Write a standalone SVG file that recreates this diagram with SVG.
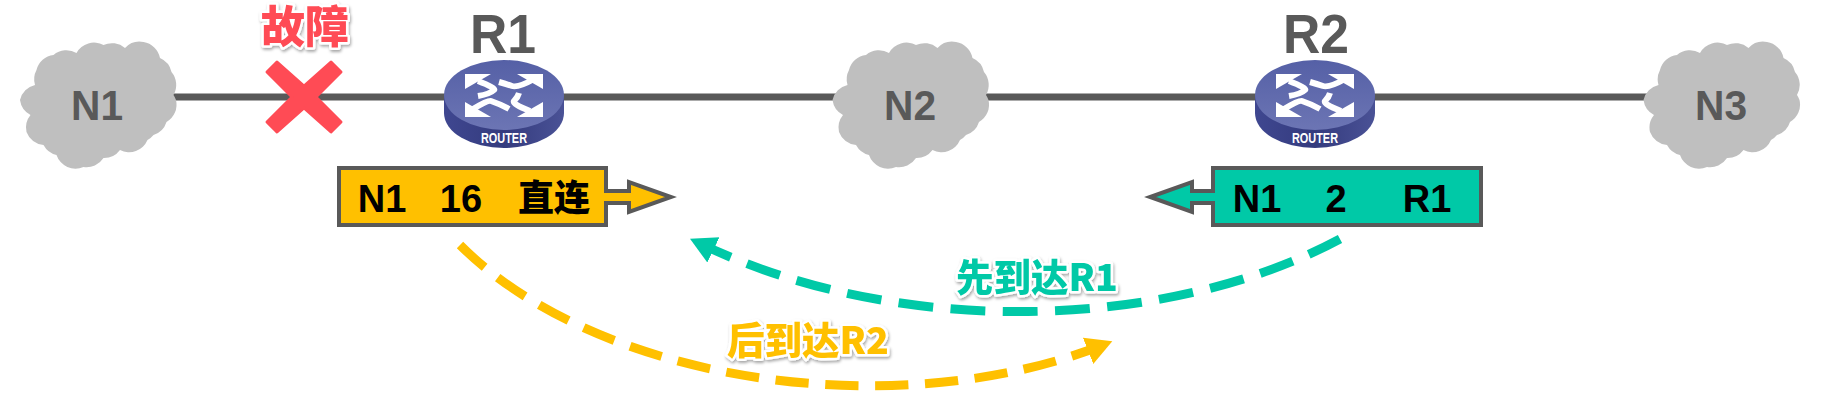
<svg xmlns="http://www.w3.org/2000/svg" width="1827" height="406" viewBox="0 0 1827 406">
<style>
text{font-family:"Liberation Sans","Noto Sans CJK SC",sans-serif;font-weight:700;text-anchor:middle}
.cloud{fill:#BFBFBF}
.nlabel{font-size:43px;fill:#595959}
.rlabel{font-size:56px;fill:#595959}
.rtr{font-size:15px;fill:#fff}
.cell{font-size:38px;fill:#000}
.cjk{font-family:"Noto Sans CJK SC","Liberation Sans",sans-serif;font-weight:900}
.latinfirst{font-family:"Liberation Sans","Noto Sans CJK SC",sans-serif;font-weight:900}
.cellcjk{font-size:36px;fill:#000}
.link{stroke:#595959;stroke-width:7;fill:none}
.box{stroke:#595959;stroke-width:4;stroke-linejoin:miter}
.dash{fill:none;stroke-width:9;stroke-dasharray:36 18}
.glow{paint-order:stroke;stroke:#fff;stroke-width:5px;stroke-linejoin:round;filter:url(#sh)}
.arw{fill:none;stroke:#fff;stroke-width:6;stroke-linejoin:round}
</style>
<defs>
<filter id="sh" x="-20%" y="-20%" width="140%" height="140%"><feDropShadow dx="1" dy="2" stdDeviation="1.5" flood-color="#000" flood-opacity=".35"/></filter>
<linearGradient id="top" x1="0" y1="0" x2="0" y2="1"><stop offset="0" stop-color="#5560A6"/><stop offset="1" stop-color="#6C75B4"/></linearGradient>
<linearGradient id="side" x1="0" y1="0" x2="1" y2="0"><stop offset="0" stop-color="#3F4790"/><stop offset=".5" stop-color="#343B7E"/><stop offset="1" stop-color="#4A5296"/></linearGradient>
<marker id="mg" markerUnits="userSpaceOnUse" markerWidth="30" markerHeight="32" refX="16" refY="15" orient="auto"><path d="M0 1L26 15L0 29Z" fill="#00C9A7"/></marker>
<marker id="my" markerUnits="userSpaceOnUse" markerWidth="30" markerHeight="32" refX="16" refY="15" orient="auto"><path d="M0 1L26 15L0 29Z" fill="#FFC000"/></marker>
<path id="cloudShape" class="cloud" d="M-77.5 -4A20 20 0 0 1 -62.5 -19A20 20 0 0 1 -61 -34A20 20 0 0 1 -44 -49A20 20 0 0 1 -21 -51A20 20 0 0 1 6 -59A20 20 0 0 1 27.5 -56A20 20 0 0 1 46 -62A20 20 0 0 1 62.5 -46A20 20 0 0 1 74 -32A20 20 0 0 1 76 -9A20 20 0 0 1 78.5 -4A20 20 0 0 1 69 18A20 20 0 0 1 56 31A20 20 0 0 1 50 36A20 20 0 0 1 22.5 46A20 20 0 0 1 6 54A20 20 0 0 1 -14 63A20 20 0 0 1 -41 51A20 20 0 0 1 -54 41A20 20 0 0 1 -71 28A20 20 0 0 1 -67 11A20 20 0 0 1 -77.5 -4Z"/>
<g id="routerShape">
<path d="M-60 -1V17A60 35 0 0 0 60 17V-1Z" fill="url(#side)"/>
<ellipse cx="0" cy="-1" rx="60" ry="35" fill="url(#top)"/>
<g class="arw"><path d="M-26 -15Q-8 -8 -10 -6Q-14 -2 -26 0"/><path d="M30 -17Q14 -8 8 -10Q2 -12 -5 -14"/><path d="M26 15Q8 8 10 5Q14 1 15 -3"/><path d="M-31 13Q-16 4 -13 5Q-4 8 5 13"/></g>
<g fill="#fff"><path d="M-39 -22H-13L-39 -7Z"/><path d="M39 -22H13L39 -7Z"/><path d="M-39 21H-13L-39 6Z"/><path d="M39 21H13L39 6Z"/></g>
<text class="rtr" x="0" y="47" textLength="46" lengthAdjust="spacingAndGlyphs">ROUTER</text>
</g>
</defs>
<g id="connectors">
<path class="link" d="M170 97H445"/><path class="link" d="M563 97H840"/><path class="link" d="M980 97H1256"/><path class="link" d="M1374 97H1650"/>
<path class="dash" stroke="#00C9A7" marker-end="url(#mg)" pathLength="684" d="M1340 239C1170 330 900 340 699 243"/>
<path class="dash" stroke="#FFC000" marker-end="url(#my)" pathLength="738" d="M460 245C600 385 900 425 1103 345"/>
</g>
<g id="N1"><use href="#cloudShape" x="97.5" y="104"/><text class="nlabel" x="97" y="120" textLength="52" lengthAdjust="spacingAndGlyphs">N1</text></g>
<g id="N2"><use href="#cloudShape" x="910" y="104"/><text class="nlabel" x="910" y="120" textLength="52" lengthAdjust="spacingAndGlyphs">N2</text></g>
<g id="N3"><use href="#cloudShape" x="1721" y="104"/><text class="nlabel" x="1721" y="120" textLength="52" lengthAdjust="spacingAndGlyphs">N3</text></g>
<g id="fault"><path fill="#FF4B55" stroke="#FF4B55" stroke-width="3" stroke-linejoin="round" transform="translate(304 97)" d="M0 -11L27 -35L37 -25L12 0L37 25L27 35L0 11L-27 35L-37 25L-12 0L-37 -25L-27 -35Z"/><text class="glow latinfirst" x="305" y="43" font-size="44" fill="#FF4B55">故障</text></g>
<g id="R1"><use href="#routerShape" x="504" y="96"/><text class="rlabel" x="503" y="53" textLength="66" lengthAdjust="spacingAndGlyphs">R1</text></g>
<g id="R2"><use href="#routerShape" x="1315" y="96"/><text class="rlabel" x="1316" y="53" textLength="66" lengthAdjust="spacingAndGlyphs">R2</text></g>
<g id="table1"><path class="box" fill="#FFC000" d="M339 168H606V191H629V182L671 197L629 212V203H606V225H339Z"/><text class="cell" x="382" y="212">N1</text><text class="cell" x="461" y="212">16</text><text class="cell cjk cellcjk" x="554" y="211">直连</text></g>
<g id="table2"><path class="box" fill="#00C9A7" d="M1481 168H1213V191H1192V182L1150 197L1192 212V203H1213V225H1481Z"/><text class="cell" x="1257" y="212">N1</text><text class="cell" x="1336" y="212">2</text><text class="cell" x="1427" y="212">R1</text></g>
<g id="label1"><text class="glow cjk" x="1037" y="291" font-size="37.5" fill="#00C9A7">先到达R1</text></g>
<g id="label2"><text class="glow cjk" x="808" y="354" font-size="37.5" fill="#FFC000">后到达R2</text></g>
</svg>
